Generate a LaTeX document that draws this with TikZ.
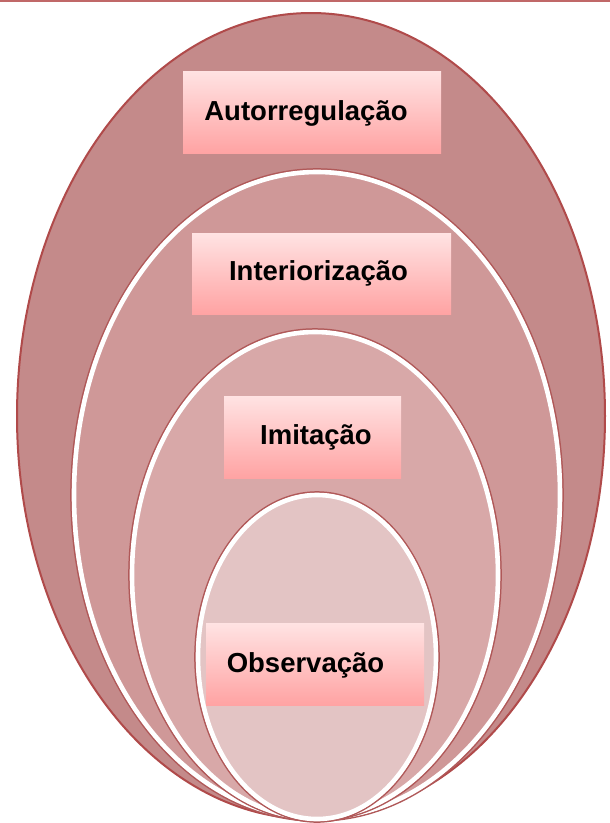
\documentclass[tikz,border=0pt]{standalone}
\usepackage{fontspec}
\setmainfont{Liberation Sans}
\definecolor{cone}{HTML}{C48A8A}
\definecolor{ctwo}{HTML}{CF9898}
\definecolor{cthree}{HTML}{D8A8A8}
\definecolor{cfour}{HTML}{E3C4C4}
\definecolor{edgered}{HTML}{B04A4A}
\definecolor{rimred}{HTML}{B05858}
\definecolor{boxtop}{HTML}{FFE3E3}
\definecolor{boxbot}{HTML}{FFA3A3}
\definecolor{topline}{HTML}{C06868}
\tikzset{
  rimdark/.style={draw=rimred, line width=1.6pt},
  rimwhite/.style={draw=white, line width=4.6pt},
  labelbox/.style={rectangle, inner sep=0pt, top color=boxtop, bottom color=boxbot, draw=none},
  labeltext/.style={anchor=base, inner sep=0pt, font=\bfseries\fontsize{27.5}{32}\selectfont, text=black}
}
\begin{document}
\begin{tikzpicture}[x=1pt,y=-1pt]
\useasboundingbox (0,0) rectangle (610,823);
\fill[white] (0,0) rectangle (610,823);
% top line
\draw[topline, line width=2pt] (0,1) -- (610,1);
% outer shape
\fill[cone] (311,416) ellipse [x radius=294pt, y radius=403pt];
\draw[edgered, line width=2pt] (311,416) ellipse [x radius=294pt, y radius=403pt];
% shape 2
\fill[ctwo] (317,495) ellipse [x radius=243pt, y radius=323pt];
\draw[rimdark] (317,495) ellipse [x radius=246pt, y radius=326pt];
\draw[rimwhite] (317,495) ellipse [x radius=243pt, y radius=323pt];
% shape 3
\fill[cthree] (315,575) ellipse [x radius=183pt, y radius=243pt];
\draw[rimdark] (315,575) ellipse [x radius=186pt, y radius=246pt];
\draw[rimwhite] (315,575) ellipse [x radius=183pt, y radius=243pt];
% shape 4
\fill[cfour] (317,657) ellipse [x radius=119pt, y radius=162pt];
\draw[rimdark] (317,657) ellipse [x radius=122pt, y radius=165pt];
\draw[rimwhite] (317,657) ellipse [x radius=119pt, y radius=162pt];
% boxes
\node[labelbox, minimum width=258pt, minimum height=82pt] (b1) at (312,112) {};
\node[labelbox, minimum width=259pt, minimum height=81pt] (b2) at (321.5,273.5) {};
\node[labelbox, minimum width=177pt, minimum height=82pt] (b3) at (312.5,437) {};
\node[labelbox, minimum width=218pt, minimum height=82pt] (b4) at (315,664) {};
% texts
\node[labeltext] (t1) at (306,120) {Autorregulação};
\node[labeltext] (t2) at (318.5,280) {Interiorização};
\node[labeltext] (t3) at (316,444) {Imitação};
\node[labeltext] (t4) at (305.5,672) {Observação};
\end{tikzpicture}
\end{document}
